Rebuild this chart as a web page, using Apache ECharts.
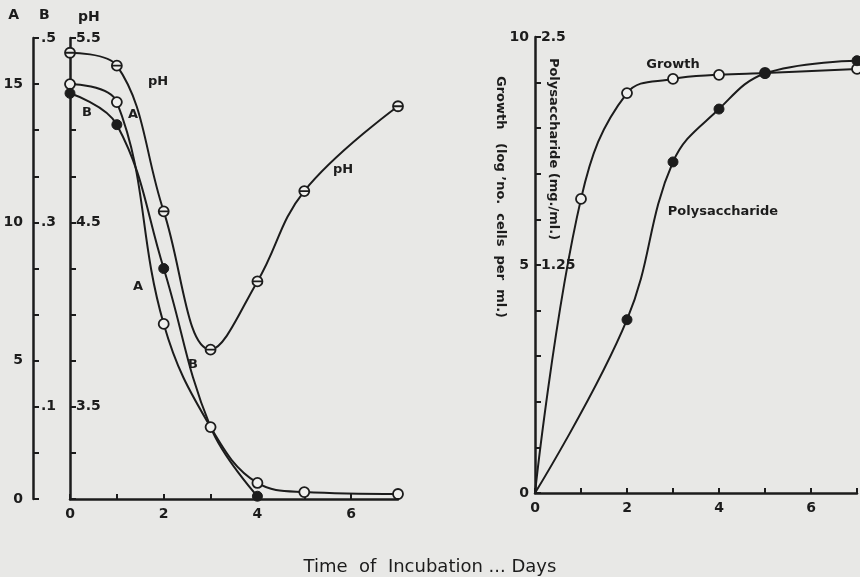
<!DOCTYPE html>
<html>
<head>
<meta charset="utf-8">
<script src="https://cdn.jsdelivr.net/npm/echarts@6/dist/echarts.min.js"></script>
<style>
  html, body { margin: 0; padding: 0; background: #e8e8e6; }
  #chart { width: 860px; height: 577px; }
</style>
</head>
<body>
<div id="chart"></div>
<script>
// 左图: pH, A, B 随培养天数变化
var leftDays = [0, 1, 2, 3, 4, 5, 7];
var phVals = [5.42, 5.35, 4.56, 3.81, 4.18, 4.67, 5.13];
var aVals = [15.0, 14.35, 6.33, 2.6, 0.58, 0.25, 0.18];
var bDays = [0, 1, 2, 3, 4];
var bVals = [0.44, 0.406, 0.25, 0.078, 0.003];

// 右图: Growth, Polysaccharide
var growthDays = [0, 1, 2, 3, 4, 5, 7];
var growthVals = [0, 6.45, 8.77, 9.08, 9.17, 9.21, 9.30];
var polyDays = [0, 2, 3, 4, 5, 7];
var polyVals = [0, 0.95, 1.815, 2.105, 2.30, 2.37];

var xTicks = [0, 2, 4, 6];

var ink = '#1c1c1c';
var paper = '#f0f0ee';
var font = 'DejaVu Sans';

function pairs(xs, ys) {
    var out = [];
    for (var i = 0; i < xs.length; i++) out.push([xs[i], ys[i]]);
    return out;
}

var thetaSymbol = 'path://M0,-5A5,5 0 1,1 0,5A5,5 0 1,1 0,-5Z M-5,0L5,0';

var myChart = echarts.init(document.getElementById('chart'));

function xAxisCfg(gridIndex, max) {
    return {
        type: 'value',
        gridIndex: gridIndex,
        min: 0,
        max: max,
        interval: 1,
        axisLine: { onZero: false, lineStyle: { color: ink, width: 2.5 } },
        axisTick: { inside: true, length: 5, lineStyle: { color: ink, width: 2 } },
        splitLine: { show: false },
        axisLabel: {
            color: ink, fontFamily: font, fontWeight: 'bold', fontSize: 14, margin: 8,
            formatter: function (v) { return xTicks.indexOf(v) >= 0 ? String(v) : ''; }
        }
    };
}

var labelStyle = { color: ink, fontFamily: font, fontWeight: 'bold', fontSize: 14 };
var nameStyle = { color: ink, fontFamily: font, fontWeight: 'bold', fontSize: 14 };

function txt(x, y, s) {
    return { type: 'text', x: x, y: y, style: { text: s, fill: ink, font: 'bold 13px "DejaVu Sans"', align: 'center', verticalAlign: 'middle' } };
}

var option = {
    backgroundColor: '#e8e8e6',
    animation: false,
    title: {
        text: 'Time  of  Incubation ... Days',
        left: 'center',
        top: 553,
        textStyle: { color: ink, fontFamily: font, fontWeight: 'normal', fontSize: 18 }
    },
    grid: [
        { left: 70, right: 462, top: 38, bottom: 78 },
        { left: 535, right: 2, top: 37, bottom: 84 }
    ],
    xAxis: [xAxisCfg(0, 7), xAxisCfg(1, 7)],
    yAxis: [
        {   // A
            type: 'value', gridIndex: 0, position: 'left', offset: 37,
            min: 0, max: 50 / 3, interval: 5,
            name: 'A', nameLocation: 'end', nameGap: 16,
            nameTextStyle: Object.assign({ align: 'right', padding: [0, 14, 0, 0] }, nameStyle),
            axisLine: { show: true, onZero: false, lineStyle: { color: ink, width: 2.5 } },
            axisTick: { show: false },
            splitLine: { show: false },
            axisLabel: Object.assign({ margin: 10, formatter: function (v) { return v > 16 ? '' : String(v); } }, labelStyle)
        },
        {   // B
            type: 'value', gridIndex: 0, position: 'left', offset: 37,
            min: 0, max: 0.5, interval: 0.05,
            name: 'B', nameLocation: 'end', nameGap: 16,
            nameTextStyle: Object.assign({ align: 'left', padding: [0, 0, 0, 6] }, nameStyle),
            axisLine: { show: false, onZero: false },
            axisTick: { inside: true, length: 6, lineStyle: { color: ink, width: 2 } },
            splitLine: { show: false },
            axisLabel: Object.assign({
                inside: true, margin: 8,
                formatter: function (v) {
                    var r = Math.round(v * 100) / 100;
                    return (r === 0.1 || r === 0.3 || r === 0.5) ? String(r).replace('0.', '.') : '';
                }
            }, labelStyle)
        },
        {   // pH
            type: 'value', gridIndex: 0, position: 'left', offset: 0,
            min: 3, max: 5.5, interval: 0.25,
            name: 'pH', nameLocation: 'end', nameGap: 14,
            nameTextStyle: Object.assign({ align: 'left', padding: [0, 0, 0, 8] }, nameStyle),
            axisLine: { show: true, onZero: false, lineStyle: { color: ink, width: 2.5 } },
            axisTick: { inside: true, length: 6, lineStyle: { color: ink, width: 2 } },
            splitLine: { show: false },
            axisLabel: Object.assign({
                inside: true, margin: 6,
                formatter: function (v) { return (v === 3.5 || v === 4.5 || v === 5.5) ? v.toFixed(1) : ''; }
            }, labelStyle)
        },
        {   // Growth
            type: 'value', gridIndex: 1, position: 'left',
            min: 0, max: 10, interval: 1,
            axisLine: { show: true, onZero: false, lineStyle: { color: ink, width: 2.5 } },
            axisTick: { inside: true, length: 6, lineStyle: { color: ink, width: 2 } },
            splitLine: { show: false },
            axisLabel: Object.assign({
                margin: 6,
                formatter: function (v) { return (v === 0 || v === 5 || v === 10) ? String(v) : ''; }
            }, labelStyle)
        },
        {   // Polysaccharide
            type: 'value', gridIndex: 1, position: 'left',
            min: 0, max: 2.5, interval: 0.25,
            axisLine: { show: false, onZero: false },
            axisTick: { show: false },
            splitLine: { show: false },
            axisLabel: Object.assign({
                inside: true, margin: 6,
                formatter: function (v) { return v === 1.25 ? '1.25' : (v === 2.5 ? '2.5' : ''); }
            }, labelStyle)
        }
    ],
    graphic: [
        {
            type: 'text', x: 500, y: 197, rotation: -Math.PI / 2,
            style: { text: 'Growth   (log ’no.  cells  per  ml.)', fill: ink, font: 'bold 13px "DejaVu Sans"', align: 'center', verticalAlign: 'middle' }
        },
        {
            type: 'text', x: 553, y: 149, rotation: -Math.PI / 2,
            style: { text: 'Polysaccharide (mg./ml.)', fill: ink, font: 'bold 13px "DejaVu Sans"', align: 'center', verticalAlign: 'middle' }
        },
        txt(158, 82, 'pH'),
        txt(133, 115, 'A'),
        txt(87, 113, 'B'),
        txt(343, 170, 'pH'),
        txt(138, 287, 'A'),
        txt(193, 365, 'B'),
        txt(673, 65, 'Growth'),
        txt(723, 212, 'Polysaccharide')
    ],
    series: [
        {
            name: 'pH', type: 'line', xAxisIndex: 0, yAxisIndex: 2,
            data: pairs(leftDays, phVals), smooth: 0.4,
            symbol: thetaSymbol, symbolSize: 10,
            lineStyle: { color: ink, width: 2 },
            itemStyle: { color: paper, borderColor: ink, borderWidth: 1.8 }
        },
        {
            name: 'A', type: 'line', xAxisIndex: 0, yAxisIndex: 0,
            data: pairs(leftDays, aVals), smooth: 0.4,
            symbol: 'circle', symbolSize: 10,
            lineStyle: { color: ink, width: 2 },
            itemStyle: { color: paper, borderColor: ink, borderWidth: 1.8 }
        },
        {
            name: 'B', type: 'line', xAxisIndex: 0, yAxisIndex: 1,
            data: pairs(bDays, bVals), smooth: 0.4,
            symbol: 'circle',
            symbolSize: function (v) { return v[0] === 3 ? 0 : 10; },
            lineStyle: { color: ink, width: 2 },
            itemStyle: { color: ink, borderColor: ink, borderWidth: 1 }
        },
        {
            name: 'Growth', type: 'line', xAxisIndex: 1, yAxisIndex: 3,
            data: pairs(growthDays, growthVals), smooth: 0.4,
            symbol: 'circle',
            symbolSize: function (v) { return v[0] === 0 ? 0 : 10; },
            lineStyle: { color: ink, width: 2 },
            itemStyle: { color: paper, borderColor: ink, borderWidth: 1.8 }
        },
        {
            name: 'Polysaccharide', type: 'line', xAxisIndex: 1, yAxisIndex: 4,
            data: pairs(polyDays, polyVals), smooth: 0.4,
            symbol: 'circle',
            symbolSize: function (v) { return v[0] === 0 ? 0 : 10; },
            lineStyle: { color: ink, width: 2 },
            itemStyle: { color: ink, borderColor: ink, borderWidth: 1 }
        }
    ]
};

myChart.setOption(option);
</script>
</body>
</html>
